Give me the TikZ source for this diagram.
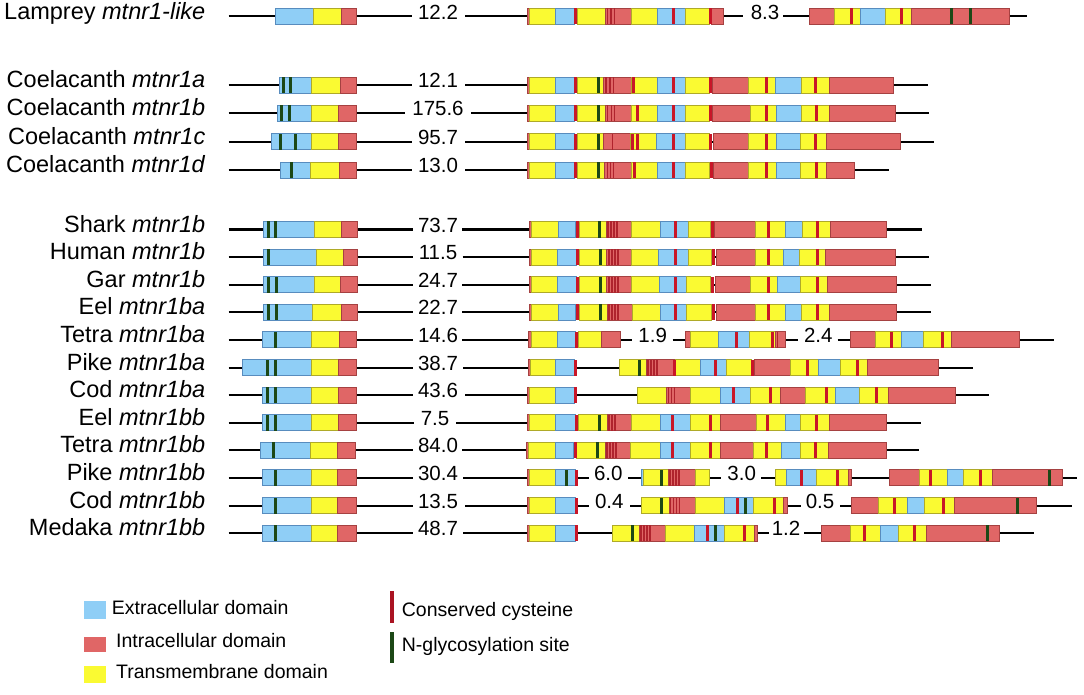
\documentclass[tikz,border=0pt]{standalone}
\usepackage{fontspec}
\setmainfont{Liberation Sans}
\definecolor{extc}{RGB}{143,206,246}
\definecolor{extd}{RGB}{88,140,190}
\definecolor{tmc}{RGB}{250,250,50}
\definecolor{tmd}{RGB}{175,170,40}
\definecolor{intc}{RGB}{224,102,102}
\definecolor{intd}{RGB}{165,65,65}
\definecolor{cysc}{RGB}{200,22,40}
\definecolor{cyst}{RGB}{175,35,45}
\definecolor{glyc}{RGB}{28,72,22}
\tikzset{
  ext/.style={fill=extc,draw=extd,line width=0.9pt},
  tm/.style={fill=tmc,draw=tmd,line width=0.9pt},
  intra/.style={fill=intc,draw=intd,line width=0.9pt},
  cysm/.style={fill=cysc},
  cysthin/.style={fill=cyst},
  glym/.style={fill=glyc},
  intron/.style={draw=black,line width=2pt},
  lab/.style={anchor=mid east,inner sep=0pt,font=\fontsize{23.5}{27}\selectfont},
  numl/.style={anchor=mid,inner sep=0pt,font=\fontsize{20.5}{24}\selectfont},
  leg/.style={anchor=mid west,inner sep=0pt,font=\fontsize{19.5}{23}\selectfont}
}
\newcommand\RowY{0}
\newcommand\gEX[2]{\path[ext] (#1,\RowY-8) rectangle (#2,\RowY+8);}
\newcommand\gTM[2]{\path[tm] (#1,\RowY-8) rectangle (#2,\RowY+8);}
\newcommand\gIN[2]{\path[intra] (#1,\RowY-8) rectangle (#2,\RowY+8);}
\newcommand\gCY[1]{\fill[cysm] (#1-1.5,\RowY-8) rectangle (#1+1.5,\RowY+8);}
\newcommand\gCT[1]{\fill[cysthin] (#1-0.75,\RowY-8) rectangle (#1+0.75,\RowY+8);}
\newcommand\gGL[1]{\fill[glym] (#1-1.5,\RowY-8) rectangle (#1+1.5,\RowY+8);}
\newcommand\gLN[2]{\draw[intron] (#1,\RowY) -- (#2,\RowY);}
\newcommand\gNUM[3]{\node[numl] (#1) at (#2,\RowY) {#3};}
\newcommand\gLAB[2]{\node[lab] (#1) at (205.5,\RowY) {#2};}
\begin{document}
\begin{tikzpicture}[x=1pt,y=-1pt]
\useasboundingbox[fill=white] (0,0) rectangle (1084,695);

% ---------- Lamprey
\def\RowY{16.5}
\gLAB{l1}{Lamprey \textit{mtnr1-like}}
\gLN{228.5}{411.7}\gNUM{n1a}{438}{12.2}\gLN{465}{743}\gNUM{n1b}{765}{8.3}\gLN{783.3}{1027.3}
\gEX{275}{313.3}\gTM{313.3}{341.7}\gIN{341.7}{356}
\gIN{527.3}{529.5}\gTM{529.5}{555}\gEX{555}{574}\gTM{577.3}{605}\gIN{605}{631}\gTM{631}{657.3}\gEX{657.3}{685}\gTM{685}{709}\gIN{711.5}{723.3}
\gCY{575.5}\gCT{607.5}\gCT{611}\gCT{614.5}\gCY{673.5}\gCY{710.3}
\gIN{809}{834}\gTM{834}{860.7}\gEX{860.7}{885.7}\gTM{885.7}{911.7}\gIN{911.7}{1009}
\gCY{851}\gCY{901.7}\gGL{951}\gGL{970.3}

% ---------- Coelacanth a
\def\RowY{85}
\gLAB{l2}{Coelacanth \textit{mtnr1a}}
\gLN{228.5}{411.7}\gNUM{n2}{438}{12.1}\gLN{465}{928.3}
\gEX{279}{311.7}\gTM{311.7}{340}\gIN{340}{356}\gGL{283.3}\gGL{290}
\gIN{527.3}{529.3}\gTM{529.3}{555}\gEX{555}{574}\gTM{577.3}{603.3}\gIN{603.3}{631}\gTM{631}{657.3}\gEX{657.3}{685}\gTM{685}{709}\gIN{712}{748.3}\gTM{748.3}{775}\gEX{775}{801}\gTM{801}{829.3}\gIN{829.3}{893.3}
\gCY{575.5}\gGL{598.3}\gCT{606}\gCT{610}\gCT{613.5}\gCY{633.3}\gCY{673.3}\gCY{710.5}\gCY{766}\gCY{815.7}

% ---------- Coelacanth b
\def\RowY{113.3}
\gLAB{l3}{Coelacanth \textit{mtnr1b}}
\gLN{228.5}{405}\gNUM{n3}{438}{175.6}\gLN{471}{929.3}
\gEX{277.7}{311}\gTM{311}{338.3}\gIN{338.3}{356}\gGL{281}\gGL{289.5}
\gIN{527.3}{529.3}\gTM{529.3}{555}\gEX{555}{574}\gTM{577.3}{605}\gIN{605}{631}\gTM{631}{657.3}\gEX{657.3}{685.7}\gTM{685.7}{709.3}\gIN{712}{750}\gTM{750}{776}\gEX{776}{801.7}\gTM{801.7}{829}\gIN{829}{895}
\gCY{575.5}\gGL{598.3}\gCT{607.5}\gCT{611.5}\gCT{614.5}\gCY{637.3}\gCY{673.3}\gCY{710.5}\gCY{766.7}\gCY{816.7}

% ---------- Coelacanth c
\def\RowY{141.7}
\gLAB{l4}{Coelacanth \textit{mtnr1c}}
\gLN{228.5}{411.7}\gNUM{n4}{438}{95.7}\gLN{465}{934.3}
\gEX{271}{311}\gTM{311}{338.3}\gIN{338.3}{356}\gGL{280}\gGL{295.7}
\gIN{527.3}{529.3}\gTM{529.3}{555}\gEX{555}{574}\gTM{577.3}{603.3}\gIN{603.3}{630}\gTM{630}{656.7}\gEX{656.7}{685}\gTM{685}{709.3}\gIN{713}{748.3}\gTM{748.3}{776}\gEX{776}{800}\gTM{800}{826.7}\gIN{826.7}{900}
\gCY{575.5}\gGL{598.3}\gCT{612.7}\gCY{632.7}\gCY{637.3}\gCY{673.3}\gCY{710.5}\gCY{766}\gCY{815.7}

% ---------- Coelacanth d
\def\RowY{170}
\gLAB{l5}{Coelacanth \textit{mtnr1d}}
\gLN{228.5}{411.7}\gNUM{n5}{438}{13.0}\gLN{465}{889}
\gEX{280}{310}\gTM{310}{339.3}\gIN{339.3}{356}\gGL{291.7}
\gIN{527.3}{529.3}\gTM{529.3}{555}\gEX{555}{574}\gTM{577.3}{604.3}\gIN{604.3}{631.7}\gTM{631.7}{657.3}\gEX{657.3}{685.7}\gTM{685.7}{709.5}\gIN{713.5}{748.3}\gTM{748.3}{776}\gEX{776}{800}\gTM{800}{826}\gIN{826}{854}
\gCY{575.5}\gGL{598.3}\gCT{607.3}\gCT{610.3}\gCT{613.5}\gCY{634.3}\gCY{673.3}\gCY{711}\gCY{766.7}\gCY{816.7}

% ---------- Shark
\def\RowY{229.5}
\gLAB{l6}{Shark \textit{mtnr1b}}
\gLN{228.5}{412.7}\gNUM{n6}{438}{73.7}\gLN{462}{921.7}
\gEX{263.3}{314}\gTM{314}{341}\gIN{341}{357.3}\gGL{268.3}\gGL{275.7}
\gIN{529.3}{531.7}\gTM{531.7}{558.3}\gEX{558.3}{575}\gTM{579}{606}\gIN{606}{631.7}\gTM{631.7}{660}\gEX{660}{688.3}\gTM{688.3}{710.5}\gIN{714}{755}\gTM{755}{785}\gEX{785}{802.3}\gTM{802.3}{830}\gIN{830}{886.7}
\gCY{577}\gGL{599.3}\gCT{608}\gCT{611}\gCT{614}\gCT{617}\gCY{675}\gCY{712}\gCY{768.3}\gCY{817.7}

% ---------- Human
\def\RowY{257.1}
\gLAB{l7}{Human \textit{mtnr1b}}
\gLN{228.5}{412.7}\gNUM{n7}{438}{11.5}\gLN{462.7}{929.3}
\gEX{263.3}{316.7}\gTM{316.7}{343.3}\gIN{343.3}{357.3}\gGL{268.3}
\gIN{529.3}{531.7}\gTM{531.7}{557.3}\gEX{557.3}{576}\gTM{579.3}{606.7}\gIN{606.7}{631.7}\gTM{631.7}{658.3}\gEX{658.3}{688.3}\gTM{688.3}{711.3}\gIN{716}{755}\gTM{755}{783.3}\gEX{783.3}{799}\gTM{799}{825}\gIN{825}{895}
\gCY{577.7}\gGL{600}\gCT{609}\gCT{612}\gCT{615}\gCT{618}\gCY{675}\gCY{713}\gCY{768.3}\gCY{817.7}

% ---------- Gar
\def\RowY{284.7}
\gLAB{l8}{Gar \textit{mtnr1b}}
\gLN{228.5}{412.7}\gNUM{n8}{438}{24.7}\gLN{462}{930.7}
\gEX{263.3}{314}\gTM{314}{340.3}\gIN{340.3}{357.3}\gGL{268.3}\gGL{276}
\gIN{529.3}{531.7}\gTM{531.7}{557.3}\gEX{557.3}{576}\gTM{579.3}{606.7}\gIN{606.7}{631.7}\gTM{631.7}{659.3}\gEX{659.3}{686.7}\gTM{686.7}{710.7}\gIN{715}{750.7}\gTM{750.7}{777.3}\gEX{777.3}{800.7}\gTM{800.7}{827.3}\gIN{827.3}{896}
\gCY{577.7}\gGL{600}\gCT{609}\gCT{612}\gCT{615}\gCT{618}\gCY{675}\gCY{712.3}\gCY{768.3}\gCY{817.7}

% ---------- Eel ba
\def\RowY{312.3}
\gLAB{l9}{Eel \textit{mtnr1ba}}
\gLN{228.5}{412.7}\gNUM{n9}{438}{22.7}\gLN{462}{930.7}
\gEX{263.3}{312.7}\gTM{312.7}{341.7}\gIN{341.7}{357.3}\gGL{268.3}\gGL{276.7}
\gIN{529.3}{531.7}\gTM{531.7}{558.3}\gEX{558.3}{575}\gTM{579}{607.3}\gIN{607.3}{632.5}\gTM{632.5}{660}\gEX{660}{686.7}\gTM{686.7}{711.7}\gIN{716.7}{755}\gTM{755}{785}\gEX{785}{801.7}\gTM{801.7}{829.3}\gIN{829.3}{896}
\gCY{577}\gGL{600}\gCT{609}\gCT{612}\gCT{615}\gCT{618}\gCY{675}\gCY{713.3}\gCY{768.3}\gCY{817.7}

% ---------- Tetra ba
\def\RowY{339.9}
\gLAB{l10}{Tetra \textit{mtnr1ba}}
\gLN{228.5}{412.7}\gNUM{n10a}{438}{14.6}\gLN{462}{631.7}\gNUM{n10b}{652.7}{1.9}\gLN{672.5}{798}\gNUM{n10c}{818.3}{2.4}\gLN{837.5}{1054}
\gEX{262.7}{311.7}\gTM{311.7}{339.3}\gIN{339.3}{356.7}\gGL{275.7}
\gIN{528.3}{531}\gTM{531}{557}\gEX{557}{575}\gTM{578.3}{601.7}\gIN{601.7}{620}
\gCY{576.5}
\gIN{685}{690.7}\gTM{690.7}{718.3}\gEX{718.3}{749.3}\gTM{749.3}{775}\gIN{775}{785.7}
\gCY{736}\gCY{772.7}\gCT{777.3}
\gIN{850}{875.7}\gTM{875.7}{901.7}\gEX{901.7}{923.3}\gTM{923.3}{951}\gIN{951}{1019}
\gCY{891.7}\gCY{942.3}

% ---------- Pike ba
\def\RowY{367.5}
\gLAB{l11}{Pike \textit{mtnr1ba}}
\gLN{228.5}{412.7}\gNUM{n11}{438}{38.7}\gLN{463}{973.3}
\gEX{242.3}{311.7}\gTM{311.7}{338.3}\gIN{338.3}{356.7}\gGL{267.3}\gGL{275.7}
\gIN{528.3}{530}\gTM{530}{555.7}\gEX{555.7}{574}
\gCY{575.5}
\gTM{619.3}{646}\gIN{646}{675}\gTM{675}{700}\gEX{700}{726.7}\gTM{726.7}{751}\gIN{754.5}{790.7}\gTM{790.7}{818.3}\gEX{818.3}{840.7}\gTM{840.7}{867.7}\gIN{867.7}{938.3}
\gGL{639.3}\gCT{648}\gCT{651}\gCT{654}\gCT{657}\gCY{674}\gCY{715}\gCY{752.7}\gCY{807.7}\gCY{857.7}

% ---------- Cod ba
\def\RowY{395.1}
\gLAB{l12}{Cod \textit{mtnr1ba}}
\gLN{228.5}{412.7}\gNUM{n12}{438}{43.6}\gLN{465}{989.3}
\gEX{262.7}{311.7}\gTM{311.7}{338.3}\gIN{338.3}{356.7}\gGL{267.3}\gGL{275.7}
\gIN{527.3}{529.3}\gTM{529.3}{555.7}\gEX{555.7}{574}
\gCY{575.5}
\gTM{637.3}{666.7}\gIN{666.7}{690.7}\gTM{690.7}{720}\gEX{720}{750}\gTM{750}{780}\gIN{780}{805.7}\gTM{805.7}{835}\gEX{835}{859}\gTM{859}{888.3}\gIN{888.3}{955}
\gCT{668.5}\gCT{671.5}\gCT{674.5}\gCY{733.3}\gCY{770}\gCY{826.7}\gCY{876.7}

% ---------- Eel bb
\def\RowY{422.7}
\gLAB{l13}{Eel \textit{mtnr1bb}}
\gLN{228.5}{414}\gNUM{n13}{435}{7.5}\gLN{456}{920.7}
\gEX{262.7}{311.7}\gTM{311.7}{338.3}\gIN{338.3}{356.7}\gGL{267.3}\gGL{275.7}
\gIN{527.3}{529.3}\gTM{529.3}{555.7}\gEX{555.7}{575}\gTM{578.3}{607.3}\gIN{607.3}{631.7}\gTM{631.7}{660.7}\gEX{660.7}{690}\gTM{690}{720}\gIN{720}{756}\gTM{756}{785}\gEX{785}{800}\gTM{800}{829.3}\gIN{829.3}{886.7}
\gCY{576.5}\gGL{599}\gCT{609}\gCT{612}\gCT{615}\gCY{672.7}\gCY{710.7}\gCY{767.3}\gCY{816.7}

% ---------- Tetra bb
\def\RowY{450.3}
\gLAB{l14}{Tetra \textit{mtnr1bb}}
\gLN{228.5}{412.7}\gNUM{n14}{438}{84.0}\gLN{462}{919.3}
\gEX{260}{310}\gTM{310}{337.3}\gIN{337.3}{355}\gGL{273.3}
\gIN{526.7}{528.3}\gTM{528.3}{555}\gEX{555}{573.3}\gTM{576.7}{605}\gIN{605}{630}\gTM{630}{660}\gEX{660}{690}\gTM{690}{720}\gIN{720}{753.3}\gTM{753.3}{781.7}\gEX{781.7}{800}\gTM{800}{828.3}\gIN{828.3}{886.7}
\gCY{575}\gGL{597.3}\gCT{607}\gCT{610}\gCT{613}\gCT{616}\gCY{672.7}\gCY{710}\gCY{766}\gCY{815.7}

% ---------- Pike bb
\def\RowY{477.9}
\gLAB{l15}{Pike \textit{mtnr1bb}}
\gLN{228.5}{412.7}\gNUM{n15a}{438}{30.4}\gLN{463}{589}\gNUM{n15b}{608.3}{6.0}\gLN{628.3}{721}\gNUM{n15c}{741.7}{3.0}\gLN{761}{1077.3}
\gEX{262.3}{311}\gTM{311}{337.7}\gIN{337.7}{356}\gGL{275}
\gIN{527.3}{529.3}\gTM{529.3}{555.7}\gEX{555.7}{575}
\gGL{566.7}\gCY{576.5}
\gEX{641.7}{643.3}\gTM{643.3}{668.3}\gIN{668.3}{695}\gTM{695}{709.3}
\gGL{661.7}\gCT{670}\gCT{673}\gCT{676}\gCT{679}
\gTM{775}{786.7}\gEX{786.7}{816.7}\gTM{816.7}{848.3}\gIN{848.3}{851}
\gCY{801}\gCY{837.7}
\gIN{889}{919}\gTM{919}{947.3}\gEX{947.3}{963.3}\gTM{963.3}{992.3}\gIN{992.3}{1062.7}
\gCY{930.7}\gCY{980.7}\gGL{1049.3}

% ---------- Cod bb
\def\RowY{505.5}
\gLAB{l16}{Cod \textit{mtnr1bb}}
\gLN{228.5}{412.7}\gNUM{n16a}{438}{13.5}\gLN{465}{589}\gNUM{n16b}{609.3}{0.4}\gLN{630}{800.5}\gNUM{n16c}{820}{0.5}\gLN{840}{1071.7}
\gEX{262.3}{311}\gTM{311}{337.7}\gIN{337.7}{356}\gGL{275}
\gIN{527.3}{529.3}\gTM{529.3}{555.7}\gEX{555.7}{575}
\gCY{576.5}
\gTM{641.7}{669}\gIN{669}{695}\gTM{695}{724}\gEX{724}{753.3}\gTM{753.3}{783.3}\gIN{783.3}{787.3}
\gGL{661.7}\gCT{670.5}\gCT{673.5}\gCT{676.5}\gCT{679.5}\gCY{737.3}\gGL{745}\gCY{774}
\gIN{851.7}{878.3}\gTM{878.3}{907.3}\gEX{907.3}{924.3}\gTM{924.3}{954.3}\gIN{954.3}{1036.7}
\gCY{894.3}\gCY{943.3}\gGL{1017.7}

% ---------- Medaka bb
\def\RowY{533.1}
\gLAB{l17}{Medaka \textit{mtnr1bb}}
\gLN{228.5}{412.7}\gNUM{n17a}{438}{48.7}\gLN{463}{769}\gNUM{n17b}{786}{1.2}\gLN{804}{1034.3}
\gEX{262.3}{311}\gTM{311}{337.7}\gIN{337.7}{356}\gGL{275}
\gIN{527.3}{529.3}\gTM{529.3}{555.7}\gEX{555.7}{575}
\gCY{576.5}
\gTM{612.3}{639.3}\gIN{639.3}{665}\gTM{665}{694}\gEX{694}{724}\gTM{724}{754.3}\gIN{754.3}{757.3}
\gGL{632.3}\gCT{641}\gCT{644}\gCT{647}\gCT{650}\gCY{707.3}\gGL{715}\gCY{744.3}
\gIN{821.7}{850.7}\gTM{850.7}{880}\gEX{880}{898.3}\gTM{898.3}{926.7}\gIN{926.7}{999.3}
\gCY{864.3}\gCY{914}\gGL{987.7}

% ---------- Legend
\fill[extc] (84,600.7) rectangle (106,619.3);
\node[leg] (t1) at (111.7,612) {Extracellular domain};
\fill[intc] (84,637.3) rectangle (106,651.7);
\node[leg] (t2) at (116,645) {Intracellular domain};
\fill[tmc] (84,666) rectangle (106,683.3);
\node[leg] (t3) at (116,676) {Transmembrane domain};
\fill[cysc!85!black] (390,590.7) rectangle (394,622.7);
\node[leg] (t4) at (401.7,614) {Conserved cysteine};
\fill[glyc] (390,631.7) rectangle (394,663.3);
\node[leg] (t5) at (401.7,648.5) {N-glycosylation site};
\end{tikzpicture}
\end{document}
